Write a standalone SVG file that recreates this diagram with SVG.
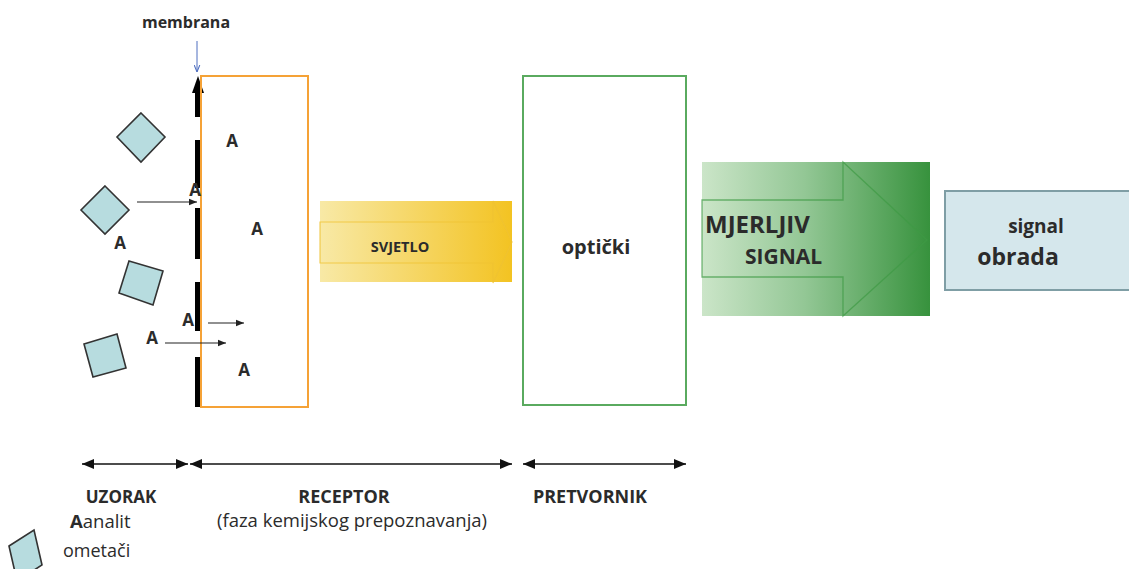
<svg xmlns="http://www.w3.org/2000/svg" width="1129" height="569" viewBox="0 0 1129 569">
<style>
text{font-family:"Open Sans","Noto Sans","Liberation Sans",sans-serif;fill:#2b2b2b}
.b{font-weight:bold}
.A{font-weight:bold;font-size:17px;text-anchor:middle}
.mol{fill:#b7dcdf;stroke:#333;stroke-width:1.6}
.thin{stroke:#222;stroke-width:1.2;fill:none;marker-end:url(#ah)}
.dim{stroke:#111;stroke-width:1.6;fill:none;marker-start:url(#dh);marker-end:url(#dh)}
.seg{fill:#000}
</style>
<defs>
<marker id="ah" viewBox="0 0 10 10" refX="10" refY="5" markerWidth="8" markerHeight="8" markerUnits="userSpaceOnUse" orient="auto"><path d="M0,1 L10,5 L0,9 Z" fill="#222"/></marker>
<marker id="dh" viewBox="0 0 12 10" refX="12" refY="5" markerWidth="12" markerHeight="10" markerUnits="userSpaceOnUse" orient="auto-start-reverse"><path d="M0,0 L12,5 L0,10 Z" fill="#111"/></marker>
<marker id="bh" viewBox="0 0 10 10" refX="10" refY="5" markerWidth="7" markerHeight="7" markerUnits="userSpaceOnUse" orient="auto"><path d="M0,1 L10,5 L0,9" fill="none" stroke="#4f6fc0" stroke-width="1.5"/></marker>
<linearGradient id="gy" x1="0" y1="0" x2="1" y2="0"><stop offset="0" stop-color="#f8e9a6"/><stop offset="1" stop-color="#f3c322"/></linearGradient>
<linearGradient id="gg" x1="0" y1="0" x2="1" y2="0"><stop offset="0" stop-color="#cbe5c8"/><stop offset="0.45" stop-color="#93c795"/><stop offset="1" stop-color="#37923d"/></linearGradient>
</defs>

<g id="membrana-label">
<text x="186" y="28" class="b" font-size="16" text-anchor="middle">membrana</text>
<line x1="197" y1="41" x2="197" y2="72" stroke="#4f6fc0" stroke-width="1" marker-end="url(#bh)"/>
</g>

<g id="membrana">
<polygon class="seg" points="198,76 192,93 204,93"/>
<rect class="seg" x="195" y="90" width="6" height="27"/>
<rect class="seg" x="195" y="140" width="6" height="48"/>
<rect class="seg" x="195" y="208" width="6" height="51"/>
<rect class="seg" x="195" y="282" width="6" height="49"/>
<rect class="seg" x="195" y="357" width="6" height="50"/>
</g>

<g id="receptor">
<rect x="201" y="76" width="107" height="331" fill="none" stroke="#f5a236" stroke-width="2"/>
</g>

<g id="molecules">
<polygon class="mol" points="141,113 165,137 141,162 117,137"/>
<polygon class="mol" points="105,186 129,210 105,234 81,210"/>
<polygon class="mol" points="129,261 163,271 153,305 119,293"/>
<polygon class="mol" points="84,344 117,334 126,368 93,377"/>
</g>

<g id="analytes">
<text class="A" x="232" y="147">A</text>
<text class="A" x="195" y="196">A</text>
<text class="A" x="257" y="235">A</text>
<text class="A" x="120" y="249">A</text>
<text class="A" x="188" y="326">A</text>
<text class="A" x="152" y="344">A</text>
<text class="A" x="244" y="376">A</text>
</g>

<g id="svjetlo">
<rect x="320" y="201" width="192" height="81" fill="url(#gy)"/>
<path d="M320,222 H493 V201 L512,242 L493,283 V263 H320 Z" fill="none" stroke="#efc232" stroke-width="1.2" opacity="0.8"/>
<text x="400" y="252" class="b" font-size="14.5" text-anchor="middle">SVJETLO</text>
</g>

<g id="opticki">
<rect x="523" y="76" width="163" height="329" fill="none" stroke="#5aaa5f" stroke-width="2"/>
<text x="596" y="254" class="b" font-size="20" text-anchor="middle">optički</text>
</g>

<g id="mjerljiv-signal">
<rect x="702" y="162" width="228" height="154" fill="url(#gg)"/>
<path d="M702,200 H843 V162 L927,240 L843,316 V277 H702 Z" fill="none" stroke="#3f9a45" stroke-width="1.3" opacity="0.7"/>
<text x="705" y="233" class="b" font-size="24">MJERLJIV</text>
<text x="745" y="264" class="b" font-size="21">SIGNAL</text>
</g>

<g id="obrada">
<rect x="945" y="191" width="190" height="99" fill="#d5e7ec" stroke="#7f9ea5" stroke-width="2"/>
<text x="1036" y="233" class="b" font-size="19" text-anchor="middle">signal</text>
<text x="1018" y="265" class="b" font-size="23" text-anchor="middle">obrada</text>
</g>

<g id="connectors">
<line class="thin" x1="137" y1="202" x2="197" y2="202"/>
<line class="thin" x1="208" y1="323" x2="244" y2="323"/>
<line class="thin" x1="165" y1="343" x2="226" y2="343"/>
<line class="dim" x1="82" y1="464" x2="188" y2="464"/>
<line class="dim" x1="190" y1="464" x2="512" y2="464"/>
<line class="dim" x1="523" y1="464" x2="686" y2="464"/>
</g>

<g id="legend">
<text x="121" y="503" class="b" font-size="17" text-anchor="middle">UZORAK</text>
<text x="344" y="503" class="b" font-size="18" text-anchor="middle">RECEPTOR</text>
<text x="352" y="527" font-size="18.5" text-anchor="middle">(faza kemijskog prepoznavanja)</text>
<text x="590" y="503" class="b" font-size="18" text-anchor="middle">PRETVORNIK</text>
<text x="70" y="528" font-size="18.5"><tspan font-weight="bold">A</tspan>analit</text>
<text x="63" y="557" font-size="18">ometači</text>
<polygon class="mol" points="9,546 34,530 42,565 17,581"/>
</g>
</svg>
